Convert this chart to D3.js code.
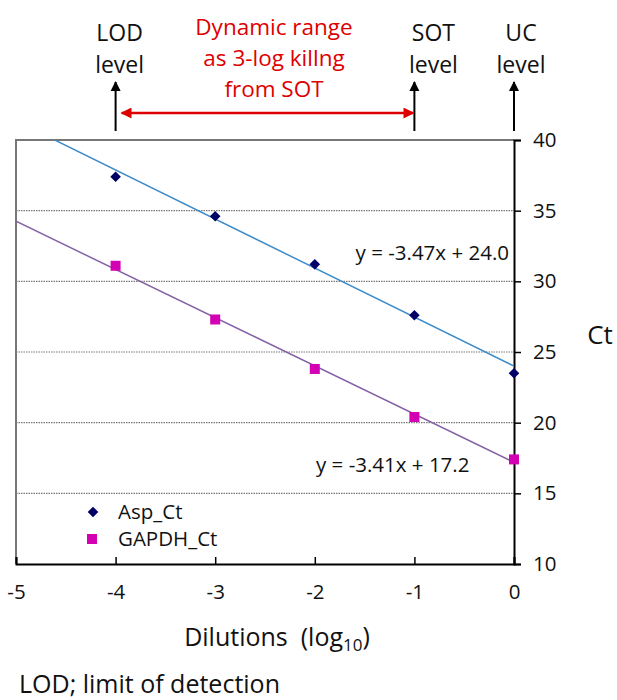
<!DOCTYPE html>
<html>
<head>
<meta charset="utf-8">
<script src="https://cdn.jsdelivr.net/npm/d3@7"></script>
<style>
  body { margin: 0; background: #fff; }
  svg text { font-family: "Open Sans", "Noto Sans", sans-serif; }
</style>
</head>
<body>
<div id="chart"></div>
<script>
// data
var dilutions = [-4, -3, -2, -1, 0];
var aspCt = [37.4, 34.6, 31.2, 27.6, 23.5];
var gapdhCt = [31.1, 27.3, 23.8, 20.4, 17.4];
var aspFit = [-3.47, 24.0];     // slope, intercept
var gapdhFit = [-3.41, 17.2];
var xTicks = [-5, -4, -3, -2, -1, 0];
var yTicks = [10, 15, 20, 25, 30, 35, 40];
var seriesNames = ['Asp_Ct', 'GAPDH_Ct'];
var levelMarks = [
  {x: -4, lines: ['LOD', 'level']},
  {x: -1, lines: ['SOT', 'level']},
  {x: 0, lines: ['UC', 'level']}
];
var rangeText = ['Dynamic range', 'as 3-log killng', 'from SOT'];

var W = 617, H = 700;
var pL = 16, pR = 514, pT = 140, pB = 564;

var svg = d3.select('#chart').append('svg')
  .attr('width', W).attr('height', H);

var x = d3.scaleLinear().domain([-5, 0]).range([pL, pR]);
var y = d3.scaleLinear().domain([10, 40]).range([pB, pT]);

var defs = svg.append('defs');
defs.append('clipPath').attr('id', 'plotclip')
  .append('rect').attr('x', pL).attr('y', pT)
  .attr('width', pR - pL).attr('height', pB - pT);

// gridlines (dotted)
svg.append('g').selectAll('line')
  .data(yTicks.filter(function(d){ return d > 10 && d < 40; }))
  .enter().append('line')
  .attr('x1', pL).attr('x2', pR)
  .attr('y1', function(d){ return y(d); }).attr('y2', function(d){ return y(d); })
  .attr('stroke', '#777').attr('stroke-width', 1.2).attr('stroke-dasharray', '1.5,1');

// top and left border (gray)
svg.append('path')
  .attr('d', 'M' + pL + ',' + pB + 'V' + pT + 'H' + pR)
  .attr('fill', 'none').attr('stroke', '#777').attr('stroke-width', 2);

var fmt = function(d){ return String(d); };

// right y axis
var yAxis = d3.axisRight(y).tickValues(yTicks).tickSize(7).tickPadding(12).tickFormat(fmt);
var gy = svg.append('g').attr('transform', 'translate(' + pR + ',0)').call(yAxis);
gy.select('.domain').attr('stroke', '#000').attr('stroke-width', 2);
gy.selectAll('.tick line').attr('stroke', '#000').attr('stroke-width', 1.5);
gy.selectAll('text').attr('font-size', 20.5).attr('fill', '#111')
  .style('font-family', '"Open Sans", sans-serif');

// bottom x axis, ticks pointing inward
var xAxis = d3.axisBottom(x).tickValues(xTicks).tickSize(-7).tickPadding(20).tickFormat(fmt);
var gx = svg.append('g').attr('transform', 'translate(0,' + pB + ')').call(xAxis);
gx.select('.domain').attr('stroke', '#000').attr('stroke-width', 2);
gx.selectAll('.tick line').attr('stroke', '#000').attr('stroke-width', 1.5);
gx.selectAll('text').attr('font-size', 20.5).attr('fill', '#111')
  .style('font-family', '"Open Sans", sans-serif');

// trend lines
var plot = svg.append('g').attr('clip-path', 'url(#plotclip)');
function fitLine(fit, color) {
  var pts = [-5, 0].map(function(v){ return [v, fit[0] * v + fit[1]]; });
  plot.append('path')
    .attr('d', d3.line().x(function(d){ return x(d[0]); }).y(function(d){ return y(d[1]); })(pts))
    .attr('fill', 'none').attr('stroke', color).attr('stroke-width', 1.5);
}
fitLine(aspFit, '#3d8cc9');
fitLine(gapdhFit, '#8462a6');

// markers (diamond = square turned 45deg)
var diamond = d3.symbol().type(d3.symbolSquare).size(56);
var square = d3.symbol().type(d3.symbolSquare).size(100);
svg.append('g').selectAll('path').data(dilutions).enter().append('path')
  .attr('d', square)
  .attr('transform', function(d, i){ return 'translate(' + x(d) + ',' + y(gapdhCt[i]) + ')'; })
  .attr('fill', '#d400b4');
svg.append('g').selectAll('path').data(dilutions).enter().append('path')
  .attr('d', diamond)
  .attr('transform', function(d, i){ return 'translate(' + x(d) + ',' + y(aspCt[i]) + ') rotate(45)'; })
  .attr('fill', '#000066');

// equations
svg.append('text').attr('x', 509).attr('y', 253).attr('dy', '0.35em')
  .attr('text-anchor', 'end').attr('font-size', 20.5).attr('fill', '#111')
  .text('y = -3.47x + 24.0');
svg.append('text').attr('x', 316).attr('y', 465).attr('dy', '0.35em')
  .attr('font-size', 20.5).attr('fill', '#111')
  .text('y = -3.41x + 17.2');

// legend
var leg = svg.append('g');
leg.append('path').attr('d', diamond).attr('transform', 'translate(93,512) rotate(45)').attr('fill', '#000066');
leg.append('path').attr('d', square).attr('transform', 'translate(92,539)').attr('fill', '#d400b4');
leg.selectAll('text').data(seriesNames).enter().append('text')
  .attr('x', 118).attr('y', function(d, i){ return 512 + i * 27; }).attr('dy', '0.35em')
  .attr('font-size', 20.5).attr('fill', '#111')
  .text(function(d){ return d; });

// axis titles
svg.append('text').attr('x', 600).attr('y', 335).attr('dy', '0.35em')
  .attr('text-anchor', 'middle').attr('font-size', 26).attr('fill', '#111').text('Ct');
var xt = svg.append('text').attr('x', 277).attr('y', 637).attr('dy', '0.35em')
  .attr('text-anchor', 'middle').attr('font-size', 25).attr('fill', '#111')
  .attr('xml:space', 'preserve');
xt.append('tspan').text('Dilutions  (log');
xt.append('tspan').attr('font-size', 17).attr('dy', '0.3em').text('10');
xt.append('tspan').attr('dy', '-0.25em').text(')');

svg.append('text').attr('x', 19).attr('y', 684).attr('dy', '0.35em')
  .attr('font-size', 25).attr('fill', '#111').text('LOD; limit of detection');

// level arrows on top
defs.append('marker').attr('id', 'headK').attr('viewBox', '0 0 10 10')
  .attr('refX', 9).attr('refY', 5).attr('markerWidth', 10).attr('markerHeight', 12)
  .attr('markerUnits', 'userSpaceOnUse').attr('orient', 'auto')
  .append('path').attr('d', 'M0,0L10,5L0,10Z').attr('fill', '#000');
defs.append('marker').attr('id', 'headR').attr('viewBox', '0 0 10 10')
  .attr('refX', 9).attr('refY', 5).attr('markerWidth', 13).attr('markerHeight', 11)
  .attr('markerUnits', 'userSpaceOnUse').attr('orient', 'auto-start-reverse')
  .append('path').attr('d', 'M0,0L10,5L0,10Z').attr('fill', '#dd0000');

var lv = svg.append('g').selectAll('g').data(levelMarks).enter().append('g');
lv.append('line')
  .attr('x1', function(d){ return x(d.x); }).attr('x2', function(d){ return x(d.x); })
  .attr('y1', 131).attr('y2', 82)
  .attr('stroke', '#000').attr('stroke-width', 2).attr('marker-end', 'url(#headK)');
lv.each(function(d){
  var g = d3.select(this);
  d.lines.forEach(function(t, i){
    g.append('text').attr('x', x(d.x) + (d.x === -1 ? 19 : (d.x === 0 ? 7 : 4)))
      .attr('y', 33 + i * 32).attr('dy', '0.35em')
      .attr('text-anchor', 'middle').attr('font-size', 23).attr('fill', '#111').text(t);
  });
});

svg.append('line').attr('x1', x(-4) + 6).attr('x2', x(-1) - 1)
  .attr('y1', 113).attr('y2', 113)
  .attr('stroke', '#dd0000').attr('stroke-width', 2.5)
  .attr('marker-start', 'url(#headR)').attr('marker-end', 'url(#headR)');

svg.append('g').selectAll('text').data(rangeText).enter().append('text')
  .attr('x', 274).attr('y', function(d, i){ return 27 + i * 31; }).attr('dy', '0.35em')
  .attr('text-anchor', 'middle').attr('font-size', 22.5).attr('fill', '#dd0000')
  .text(function(d){ return d; });
</script>
</body>
</html>
